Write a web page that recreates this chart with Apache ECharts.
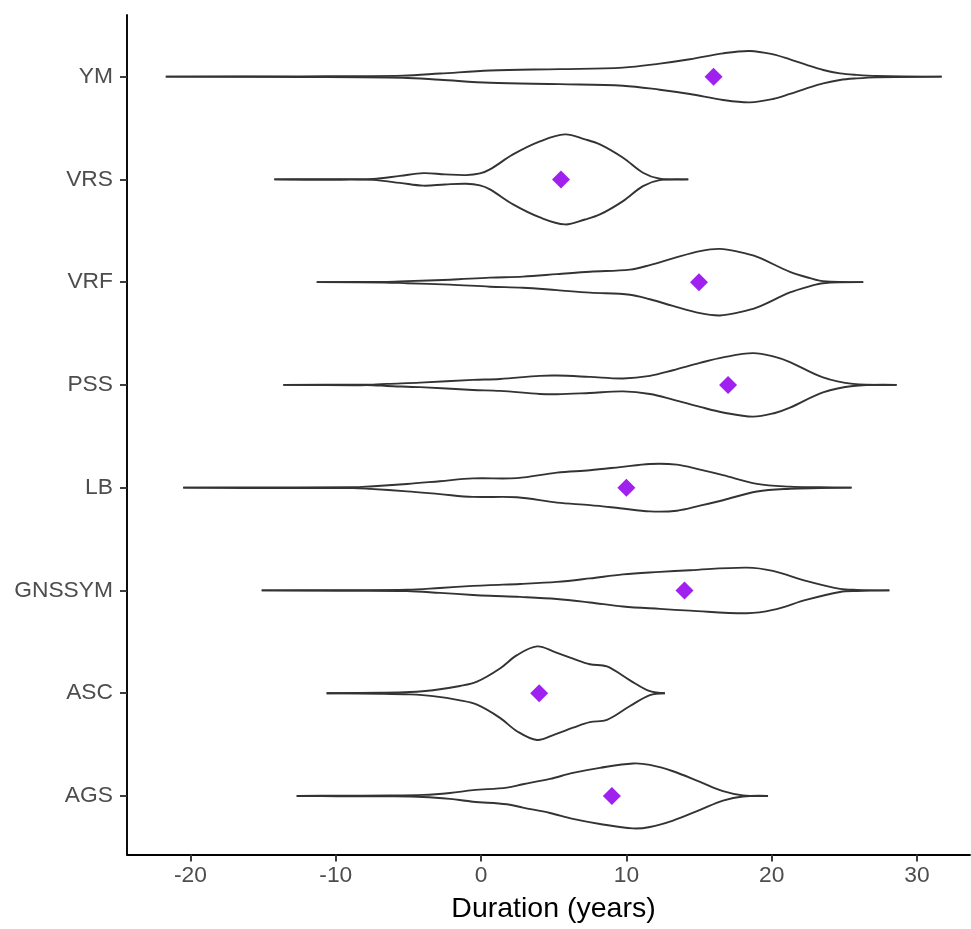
<!DOCTYPE html>
<html>
<head>
<meta charset="utf-8">
<script src="https://cdn.jsdelivr.net/npm/echarts@6/dist/echarts.min.js"></script>
<style>
html,body{margin:0;padding:0;background:#fff;overflow:hidden;}
#chart{width:971px;height:929px;}
</style>
</head>
<body>
<div id="chart"></div>
<script>
// Categories bottom -> top
const categories = ['AGS', 'ASC', 'GNSSYM', 'LB', 'PSS', 'VRF', 'VRS', 'YM'];
// Mean values (purple diamonds)
const meanValues = [9, 4, 14, 10, 17, 15, 5.5, 16];
// X tick labels
const xTicks = [-20, -10, 0, 10, 20, 30];

// Violin outlines: [duration, half-width in category units]
const violinAGS = [[-12.69,0],[-9.92,0.003],[-6.27,0.004],[-4.0,0.01],[-2.14,0.029],[-0.56,0.056],[1.78,0.081],[2.88,0.114],[4.74,0.166],[6.32,0.224],[8.18,0.273],[10.45,0.316],[11.62,0.302],[13.21,0.24],[15.07,0.136],[16.65,0.046],[18.03,0.005],[19.75,0]];
const violinASC = [[-10.63,0],[-6.96,0.005],[-4.9,0.012],[-3.31,0.029],[-1.45,0.07],[-0.28,0.112],[1.3,0.24],[2.47,0.37],[3.85,0.455],[5.09,0.4],[6.33,0.336],[7.49,0.282],[8.66,0.26],[10.25,0.125],[11.62,0.019],[12.65,0]];
const violinGNSSYM = [[-15.1,0],[-9.92,0.003],[-5.1,0.006],[-2.83,0.024],[-0.56,0.044],[0.61,0.052],[2.68,0.063],[5.22,0.083],[7.49,0.117],[9.77,0.156],[12.31,0.18],[14.37,0.197],[18.3,0.222],[20.08,0.19],[22.43,0.09],[24.7,0.015],[25.85,0.005],[28.1,0]];
const violinLB = [[-20.5,0],[-16.39,0.003],[-8.82,0.004],[-7.65,0.012],[-5.1,0.036],[-2.83,0.063],[-0.56,0.09],[2.47,0.093],[5.22,0.146],[7.49,0.17],[9.56,0.2],[11.62,0.231],[13.48,0.224],[15.07,0.175],[16.65,0.122],[18.99,0.037],[21.26,0.01],[23.32,0.004],[25.5,0]];
const violinPSS = [[-13.61,0],[-8.82,0.003],[-7.44,0.003],[-6.48,0.01],[-4.2,0.022],[-0.56,0.049],[1.3,0.058],[4.05,0.088],[5.22,0.091],[7.49,0.078],[9.77,0.063],[11.62,0.088],[13.21,0.143],[15.07,0.214],[16.65,0.268],[18.71,0.309],[20.23,0.273],[21.26,0.222],[23.53,0.073],[25.6,0.01],[28.6,0]];
const violinVRF = [[-11.31,0],[-6.68,0.003],[-5.1,0.01],[-2.14,0.024],[0.61,0.044],[2.88,0.054],[5.22,0.078],[7.49,0.102],[10.25,0.122],[11.62,0.166],[13.2,0.231],[15.07,0.302],[16.44,0.324],[17.82,0.292],[19.0,0.246],[21.26,0.1],[22.64,0.039],[23.53,0.01],[26.3,0]];
const violinVRS = [[-14.23,0],[-12.26,0.003],[-9.71,0.003],[-7.44,0.005],[-5.58,0.034],[-3.98,0.061],[-2.48,0.049],[-1.04,0.042],[-0.08,0.058],[0.61,0.097],[2.2,0.243],[4.05,0.37],[5.77,0.438],[7.15,0.39],[8.18,0.341],[9.77,0.211],[11.14,0.065],[12.3,0.007],[14.26,0]];
const violinYM = [[-21.7,0],[-12.46,0.003],[-5.4,0.01],[-2.83,0.03],[0.61,0.06],[5.43,0.073],[9.77,0.088],[12.3,0.127],[14.37,0.169],[16.65,0.227],[18.5,0.25],[20.1,0.217],[21.26,0.168],[22.4,0.114],[23.55,0.065],[24.7,0.032],[25.85,0.017],[27.2,0.007],[31.7,0]];

const violins = [violinAGS, violinASC, violinGNSSYM, violinLB, violinPSS, violinVRF, violinVRS, violinYM];

const chart = echarts.init(document.getElementById('chart'), null, {renderer: 'canvas'});
const lineStyle = {stroke: '#333333', lineWidth: 1.9, fill: null};
const fontFamily = 'Liberation Sans, Arial, sans-serif';

chart.setOption({
  animation: false,
  backgroundColor: '#ffffff',
  grid: {left: 127, top: 15, right: 1, bottom: 74.5, containLabel: false},
  xAxis: {
    type: 'value',
    min: -24.37,
    max: 33.65,
    name: 'Duration (years)',
    nameLocation: 'middle',
    nameGap: 40,
    nameTextStyle: {color: '#000000', fontSize: 28.5, fontFamily: fontFamily, padding: [0, 0, 0, 10]},
    axisLine: {onZero: false, lineStyle: {color: '#000000', width: 1.9}},
    axisTick: {show: true, length: 7, customValues: xTicks, lineStyle: {color: '#333333', width: 1.9}},
    axisLabel: {customValues: xTicks, margin: 10, color: '#4D4D4D', fontSize: 22.8, fontFamily: fontFamily},
    splitLine: {show: false}
  },
  yAxis: {
    type: 'value',
    min: 0.43,
    max: 8.6,
    axisLine: {onZero: false, lineStyle: {color: '#000000', width: 1.9}},
    axisTick: {show: true, length: 7, customValues: [1,2,3,4,5,6,7,8], lineStyle: {color: '#333333', width: 1.9}},
    axisLabel: {
      customValues: [1,2,3,4,5,6,7,8],
      margin: 14,
      color: '#4D4D4D', fontSize: 22.8, fontFamily: fontFamily,
      formatter: function (v) { return categories[Math.round(v) - 1] || ''; }
    },
    splitLine: {show: false}
  },
  series: [
    {
      type: 'custom',
      coordinateSystem: 'cartesian2d',
      clip: false,
      data: meanValues.map(function (v, i) { return [v, i + 1]; }),
      encode: {x: 0, y: 1},
      renderItem: function (params, api) {
        const i = params.dataIndex;
        const pos = i + 1;
        const pts = violins[i];
        const upper = pts.map(function (p) { return api.coord([p[0], pos + p[1]]); });
        const lower = pts.map(function (p) { return api.coord([p[0], pos - p[1]]); });
        return {
          type: 'group',
          children: [
            {type: 'polyline', shape: {points: upper, smooth: 0.35}, style: lineStyle},
            {type: 'polyline', shape: {points: lower, smooth: 0.35}, style: lineStyle}
          ]
        };
      }
    },
    {
      type: 'scatter',
      symbol: 'diamond',
      symbolSize: 18,
      itemStyle: {color: '#A020F0', opacity: 1},
      data: meanValues.map(function (v, i) { return [v, i + 1]; }),
      z: 5
    }
  ]
});
</script>
</body>
</html>
